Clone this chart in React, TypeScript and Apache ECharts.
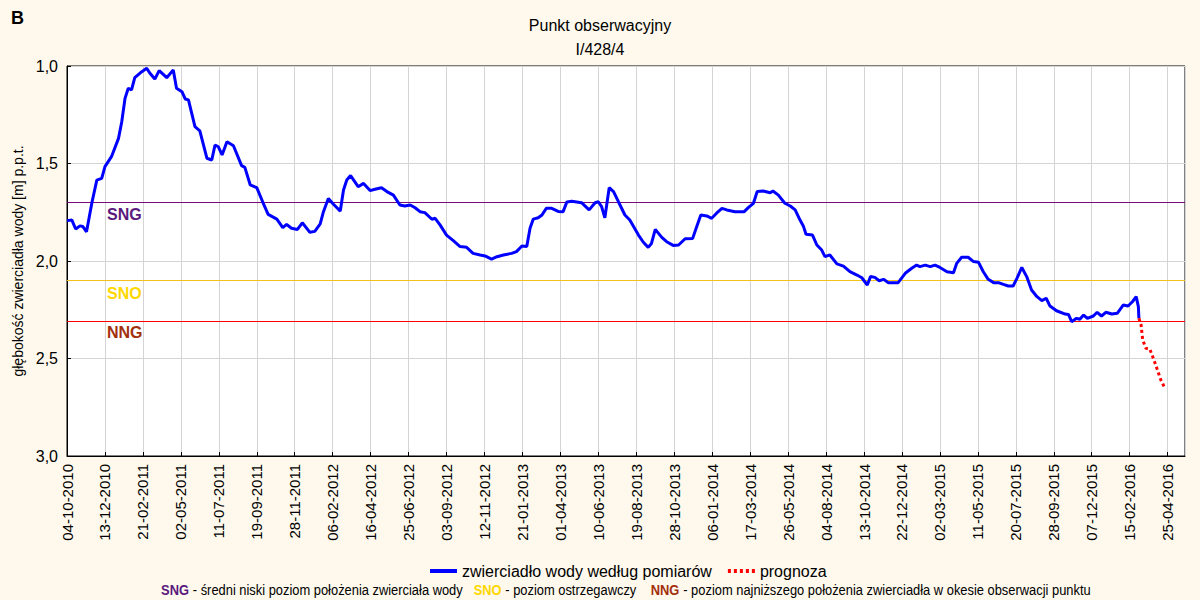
import React, { useEffect, useRef } from 'react';
import * as echarts from 'echarts';

// ---- data -------------------------------------------------------------
// x: days since 04-10-2010, y: depth of water table [m below ground]
const START_DATE_UTC = Date.UTC(2010, 9, 4);
const TICK_STEP_DAYS = 70;
const AXIS_MAX_DAYS = 2062;

const measuredDays = [
  0, 9, 16, 24, 29, 36, 46, 55, 64, 70, 82, 95, 101, 107, 113, 119, 125, 138, 147, 153,
  162, 170, 184, 196, 202, 212, 218, 224, 236, 245, 258, 267, 273, 279, 286, 295, 307, 322, 328, 338,
  350, 362, 371, 387, 398, 405, 414, 425, 434, 448, 457, 467, 473, 482, 491, 504, 510, 516, 523, 537,
  547, 559, 568, 580, 590, 602, 614, 623, 633, 642, 651, 660, 673, 679, 688, 700, 713, 725, 737, 749,
  762, 771, 783, 793, 805, 820, 829, 839, 848, 854, 860, 869, 876, 884, 894, 906, 915, 922, 931, 949,
  963, 974, 980, 986, 992, 1000, 1008, 1017, 1029, 1038, 1054, 1063, 1072, 1078, 1085, 1097, 1106, 1118, 1128, 1140,
  1154, 1161, 1169, 1180, 1189, 1198, 1208, 1217, 1232, 1249, 1257, 1266, 1273, 1284, 1297, 1302, 1312, 1324, 1334, 1343,
  1352, 1358, 1363, 1375, 1383, 1392, 1398, 1407, 1420, 1432, 1444, 1457, 1466, 1476, 1482, 1490, 1498, 1506, 1515, 1533,
  1546, 1558, 1567, 1573, 1583, 1592, 1601, 1610, 1623, 1635, 1641, 1650, 1662, 1672, 1681, 1690, 1699, 1709, 1718, 1727,
  1736, 1745, 1752, 1761, 1770, 1779, 1789, 1798, 1806, 1813, 1825, 1841, 1847, 1853, 1862, 1868, 1875, 1882, 1893, 1900,
  1908, 1916, 1927, 1937, 1948, 1957, 1965, 1972, 1976, 1977,
];
const measuredDepth = [
  1.793, 1.79, 1.836, 1.82, 1.823, 1.85, 1.7, 1.585, 1.576, 1.516, 1.465, 1.371, 1.286, 1.166, 1.114, 1.123, 1.06, 1.029, 1.012, 1.037,
  1.067, 1.024, 1.06, 1.02, 1.114, 1.132, 1.169, 1.174, 1.311, 1.333, 1.473, 1.482, 1.405, 1.414, 1.456, 1.388, 1.409, 1.511, 1.52, 1.61,
  1.624, 1.704, 1.761, 1.785, 1.829, 1.812, 1.832, 1.838, 1.804, 1.853, 1.848, 1.81, 1.747, 1.679, 1.708, 1.744, 1.636, 1.585, 1.562, 1.619,
  1.602, 1.639, 1.632, 1.624, 1.644, 1.662, 1.713, 1.718, 1.713, 1.727, 1.747, 1.752, 1.786, 1.781, 1.815, 1.867, 1.897, 1.926, 1.93, 1.961,
  1.969, 1.974, 1.99, 1.978, 1.969, 1.961, 1.952, 1.923, 1.926, 1.832, 1.785, 1.778, 1.764, 1.73, 1.73, 1.746, 1.747, 1.697, 1.694, 1.701,
  1.738, 1.701, 1.696, 1.721, 1.778, 1.624, 1.644, 1.696, 1.764, 1.79, 1.867, 1.904, 1.93, 1.91, 1.838, 1.879, 1.901, 1.92, 1.918, 1.886,
  1.884, 1.827, 1.764, 1.769, 1.781, 1.755, 1.73, 1.738, 1.747, 1.747, 1.725, 1.704, 1.644, 1.641, 1.65, 1.641, 1.662, 1.704, 1.718, 1.738,
  1.79, 1.82, 1.863, 1.867, 1.918, 1.944, 1.978, 1.969, 2.015, 2.026, 2.055, 2.072, 2.086, 2.123, 2.08, 2.084, 2.101, 2.094, 2.111, 2.111,
  2.063, 2.037, 2.021, 2.029, 2.021, 2.029, 2.021, 2.033, 2.055, 2.06, 2.012, 1.981, 1.981, 2.003, 2.006, 2.055, 2.094, 2.111, 2.111, 2.12,
  2.128, 2.128, 2.089, 2.033, 2.08, 2.149, 2.183, 2.203, 2.191, 2.231, 2.255, 2.272, 2.274, 2.311, 2.294, 2.299, 2.277, 2.294, 2.282, 2.263,
  2.282, 2.263, 2.272, 2.268, 2.226, 2.231, 2.209, 2.183, 2.234, 2.294,
];

const forecastDays = [1977, 1981, 1984, 1990, 1997, 2002, 2008, 2017, 2025];
const forecastDepth = [2.294, 2.328, 2.405, 2.448, 2.451, 2.487, 2.533, 2.607, 2.653];

// reference levels
const LEVEL_SNG = 1.7;
const LEVEL_SNO = 2.105;
const LEVEL_NNG = 2.305;

const Y_TICKS_MIN = 1.0;
const Y_TICKS_MAX = 3.0;
const Y_TICK_STEP = 0.5;

const TITLE_LINE_1 = 'Punkt obserwacyjny';
const TITLE_LINE_2 = 'I/428/4';
const PANEL_LETTER = 'B';
const Y_AXIS_NAME = 'głębokość zwierciadła wody [m] p.p.t.';
const SERIES_MEASURED = 'zwierciadło wody według pomiarów';
const SERIES_FORECAST = 'prognoza';
const LEVEL_LABELS = ['SNG', 'SNO', 'NNG'];
const LEVEL_VALUES = [LEVEL_SNG, LEVEL_SNO, LEVEL_NNG];
const LEVEL_LINE_COLORS = ['#7a0a7a', '#f2c21b', '#ff0000'];
const LEVEL_TEXT_COLORS = ['#5a1a7e', '#ffd700', '#a3300c'];

// ---- helpers ----------------------------------------------------------
const FONT = "'Liberation Sans', Arial, sans-serif";

const pad2 = (n: number) => (n < 10 ? '0' + n : '' + n);
const fmtDate = (days: number) => {
  const d = new Date(START_DATE_UTC + Math.round(days) * 86400000);
  return `${pad2(d.getUTCDate())}-${pad2(d.getUTCMonth() + 1)}-${d.getUTCFullYear()}`;
};

export default function App() {
  const ref = useRef<HTMLDivElement>(null);

  useEffect(() => {
    if (!ref.current) return;
    const chart = echarts.init(ref.current, null, { renderer: 'svg' });

    const measured = measuredDays.map((d, i) => [d, measuredDepth[i]]);
    const forecast = forecastDays.map((d, i) => [d, forecastDepth[i]]);

    const levelSeries = LEVEL_VALUES.map((v, i) => ({
      name: LEVEL_LABELS[i],
      type: 'line',
      data: [],
      symbol: 'none',
      z: 3,
      markLine: {
        silent: true,
        symbol: ['none', 'none'],
        label: { show: false },
        lineStyle: { color: LEVEL_LINE_COLORS[i], width: 1, type: 'solid', opacity: 1 },
        emphasis: { disabled: true },
        data: [{ yAxis: v }],
      },
    }));

    chart.setOption({
      animation: false,
      backgroundColor: '#fef9ec',
      textStyle: { fontFamily: FONT },
      title: [
        {
          text: `${TITLE_LINE_1}\n${TITLE_LINE_2}`,
          left: 'center',
          top: 8,
          textStyle: { fontSize: 16, fontWeight: 'normal', color: '#000', lineHeight: 24, fontFamily: FONT },
        },
        {
          text: PANEL_LETTER,
          left: 6,
          top: 4,
          textStyle: { fontSize: 18, fontWeight: 'bold', color: '#000', fontFamily: FONT },
        },
      ],
      grid: {
        left: 67,
        right: 15,
        top: 66,
        bottom: 144,
        show: true,
        backgroundColor: '#ffffff',
        borderColor: '#000',
        borderWidth: 1,
      },
      legend: {
        left: 423,
        top: 558,
        itemWidth: 27,
        itemHeight: 14,
        itemGap: 14,
        itemStyle: { opacity: 0 },
        lineStyle: { width: 4 },
        textStyle: { fontSize: 16, color: '#000', fontFamily: FONT },
        data: [SERIES_MEASURED, SERIES_FORECAST],
      },
      xAxis: {
        type: 'value',
        min: 0,
        max: AXIS_MAX_DAYS,
        interval: TICK_STEP_DAYS,
        axisLine: { lineStyle: { color: '#000', width: 1 } },
        axisTick: { inside: true, length: 4, lineStyle: { color: '#000' } },
        axisLabel: {
          rotate: 90,
          margin: 8,
          fontSize: 15,
          color: '#000',
          fontFamily: FONT,
          showMaxLabel: false,
          formatter: (v: number) => (v % TICK_STEP_DAYS === 0 ? fmtDate(v) : ''),
        },
        splitLine: { show: true, lineStyle: { color: '#d4d4d4', width: 1 } },
      },
      yAxis: {
        type: 'value',
        inverse: true,
        min: Y_TICKS_MIN,
        max: Y_TICKS_MAX,
        interval: Y_TICK_STEP,
        name: Y_AXIS_NAME,
        nameLocation: 'middle',
        nameGap: 40,
        nameTextStyle: { fontSize: 14, color: '#000', fontFamily: FONT },
        axisLine: { show: true, lineStyle: { color: '#000', width: 1 } },
        axisTick: { show: true, inside: true, length: 4, lineStyle: { color: '#000' } },
        axisLabel: {
          margin: 9,
          fontSize: 16,
          color: '#000',
          fontFamily: FONT,
          formatter: (v: number) => v.toFixed(1).replace('.', ','),
        },
        splitLine: { show: true, lineStyle: { color: '#d4d4d4', width: 1 } },
      },
      series: [
        ...levelSeries,
        {
          name: SERIES_MEASURED,
          type: 'line',
          data: measured,
          symbol: 'none',
          z: 5,
          lineStyle: { color: '#0000ff', width: 3 },
          itemStyle: { color: '#0000ff' },
        },
        {
          name: SERIES_FORECAST,
          type: 'line',
          data: forecast,
          symbol: 'none',
          z: 6,
          lineStyle: { color: '#ff0000', width: 3, type: [3, 3] },
          itemStyle: { color: '#ff0000' },
        },
      ],
    });

    const x0 = 107;
    const levelTexts = LEVEL_VALUES.map((v, i) => {
      const py = chart.convertToPixel({ yAxisIndex: 0 }, v) as number;
      return {
        type: 'text',
        x: x0,
        y: py + 12,
        z: 10,
        style: {
          text: LEVEL_LABELS[i],
          fill: LEVEL_TEXT_COLORS[i],
          font: `bold 16px ${FONT}`,
          verticalAlign: 'middle',
          align: 'left',
        },
      };
    });

    chart.setOption({
      graphic: [
        ...levelTexts,
        {
          type: 'text',
          x: 626,
          y: 590,
          scaleX: 0.86,
          z: 10,
          style: {
            text:
              `{sng|SNG}{t| - średni niski poziom położenia zwierciała wody   }` +
              `{sno|SNO}{t| - poziom ostrzegawczy    }` +
              `{nng|NNG}{t| - poziom najniższego położenia zwierciadła w okesie obserwacji punktu}`,
            align: 'center',
            verticalAlign: 'middle',
            font: `15px ${FONT}`,
            fill: '#000',
            rich: {
              t: { fontSize: 15, fontFamily: FONT, fill: '#000', color: '#000' },
              sng: { fontSize: 15, fontFamily: FONT, fontWeight: 'bold', fill: LEVEL_TEXT_COLORS[0], color: LEVEL_TEXT_COLORS[0] },
              sno: { fontSize: 15, fontFamily: FONT, fontWeight: 'bold', fill: LEVEL_TEXT_COLORS[1], color: LEVEL_TEXT_COLORS[1] },
              nng: { fontSize: 15, fontFamily: FONT, fontWeight: 'bold', fill: LEVEL_TEXT_COLORS[2], color: LEVEL_TEXT_COLORS[2] },
            },
          },
        },
      ],
    });

    return () => chart.dispose();
  }, []);

  return (
    <div
      ref={ref}
      style={{ position: 'fixed', left: 0, top: 0, width: 1200, height: 600 }}
    />
  );
}
